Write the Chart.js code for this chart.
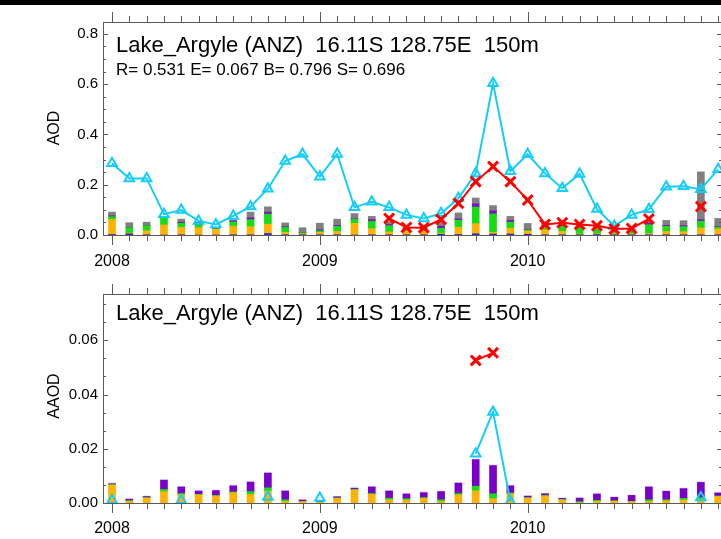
<!DOCTYPE html>
<html lang="en">
<head>
<meta charset="UTF-8">
<title>Lake_Argyle AOD / AAOD</title>
<style>
  html, body { margin: 0; padding: 0; background: #fff; overflow: hidden; }
  body { width: 721px; height: 539px; position: relative; }
  canvas { position: absolute; left: 0; }
  #aodChart { top: 0; }
  #aaodChart { top: 280px; }
  .band { position: absolute; left: 0; top: 0; width: 721px; height: 5px; background: #000; }
</style>
<script src="https://cdn.jsdelivr.net/npm/chart.js"></script>
</head>
<body>
<canvas id="aodChart" width="740" height="280"></canvas>
<canvas id="aaodChart" width="740" height="259"></canvas>
<div class="band"></div>
<script>
// months since Jan 2008
const months = [0,1,2,3,4,5,6,7,8,9,10,11,12,13,14,15,16,17,18,19,20,21,22,23,24,25,26,27,28,29,30,31,32,33,34,35];
const yearTicks = [0, 12, 24];
const yearLabels = ['2008', '2009', '2010'];

// AOD: observed (cyan triangles) and model (red crosses)
const aodObs = [0.285,0.225,0.225,0.083,0.099,0.056,0.042,0.076,0.113,0.184,0.294,0.322,
                0.232,0.322,0.110,0.132,0.110,0.080,0.066,0.086,0.146,0.245,0.603,0.254,
                0.321,0.245,0.186,0.243,0.103,0.036,0.080,0.102,0.192,0.194,0.182,0.261];
const aodModel = [null,null,null,null,null,null,null,null,null,null,null,null,
                  null,null,null,null,0.066,0.030,0.029,0.062,0.126,0.212,0.272,0.212,
                  0.139,0.042,0.049,0.042,0.037,0.024,0.026,0.064,null,null,0.113,null];
// AOD components (stacked bars, bottom to top)
const aodSeaSalt = [0.002,0.005,0.001,0,0.001,0,0,0.001,0.001,0.006,0.001,0.001,
                    0.001,0.001,0,0.001,0.001,0.001,0.001,0.003,0.002,0.005,0.004,0.004,
                    0.003,0.001,0.001,0.001,0.002,0.001,0.001,0.001,0.001,0.001,0.001,0.001];
const aodDust = [0.060,0.003,0.016,0.040,0.029,0.029,0.023,0.034,0.032,0.037,0.009,0.004,
                 0.009,0.013,0.046,0.024,0.011,0.015,0.020,0.004,0.029,0.040,0.007,0.023,
                 0.013,0.020,0.013,0.003,0.003,0.004,0.004,0.005,0.013,0.012,0.027,0.023];
const aodSulfate = [0.011,0.021,0.020,0.027,0.017,0.011,0.002,0.017,0.028,0.040,0.020,0.004,
                    0.007,0.020,0.016,0.029,0.025,0.008,0.004,0.020,0.028,0.066,0.073,0.024,
                    0.004,0.012,0.020,0.025,0.022,0.006,0.015,0.035,0.020,0.020,0.027,0.007];
const aodBC = [0.003,0.001,0.001,0.002,0.004,0.002,0.001,0.004,0.007,0.008,0.003,0.001,
               0.004,0.004,0.002,0.007,0.005,0.002,0.002,0.008,0.005,0.013,0.012,0.007,
               0.002,0.002,0.002,0.002,0.002,0.001,0.002,0.006,0.004,0.004,0.006,0.002];
const aodOC = [0.015,0.019,0.013,0.002,0.012,0.010,0.002,0.004,0.023,0.021,0.015,0.019,
               0.026,0.025,0.021,0.013,0.010,0.004,0.012,0.017,0.024,0.023,0.021,0.016,
               0.024,0.018,0.006,0.006,0.012,0.002,0.003,0.010,0.020,0.020,0.190,0.033];

// AAOD: observed and model
const aaodObs = [0.0010,null,null,null,0.0010,null,null,null,null,0.0022,null,null,
                 0.0018,null,null,null,null,null,null,null,null,0.0182,0.0336,0.0006,
                 null,null,null,null,null,null,null,null,null,null,0.0020,null];
const aaodModel = [null,null,null,null,null,null,null,null,null,null,null,null,
                   null,null,null,null,null,null,null,null,null,0.0526,0.0554,null,
                   null,null,null,null,null,null,null,null,null,null,null,null];
const aaodDust = [0.0066,0.0006,0.0018,0.0042,0.0030,0.0030,0.0026,0.0038,0.0032,0.0044,0.0006,0.0005,
                  0.0002,0.0017,0.0048,0.0032,0.0012,0.0011,0.0017,0.0006,0.0030,0.0045,0.0016,0.0034,
                  0.0018,0.0026,0.0011,0.0001,0.0006,0.0007,0.0005,0.0006,0.0008,0.0011,0.0014,0.0024];
const aaodSulfate = [0.0002,0.0003,0.0002,0.0008,0.0005,0.0002,0.0002,0.0003,0.0010,0.0012,0.0006,0.0001,
                     0,0.0002,0.0002,0.0003,0.0006,0.0005,0.0003,0.0006,0.0005,0.0017,0.0018,0.0003,
                     0.0002,0.0002,0.0002,0.0004,0.0004,0.0001,0.0001,0.0006,0.0004,0.0006,0.0006,0.0002];
const aaodBC = [0.0003,0.0005,0.0004,0.0034,0.0024,0.0012,0.0018,0.0022,0.0035,0.0054,0.0032,0.0005,
                0.0003,0.0004,0.0004,0.0024,0.0026,0.0017,0.0018,0.0030,0.0038,0.0098,0.0104,0.0026,
                0.0005,0.0006,0.0004,0.0013,0.0023,0.0013,0.0022,0.0047,0.0031,0.0036,0.0056,0.0011];
const aaodOC = [0.0003,0.0002,0.0002,0.0003,0.0002,0.0002,0.0002,0.0003,0.0002,0.0003,0.0002,0.0002,
                0,0.0002,0.0004,0.0003,0.0002,0.0003,0.0003,0.0002,0.0003,0.0002,0.0002,0.0003,
                0.0003,0.0002,0.0002,0.0001,0.0002,0.0002,0.0001,0.0002,0.0002,0.0002,0.0002,0.0002];

const FONT = "'Liberation Sans', Arial, sans-serif";
const CYAN = '#14cdf8', RED = '#ff0000';

function pts(arr) {
  return arr.map((v, i) => ({ x: months[i], y: v }));
}

function lineSet(arr, color, style, radius, stack) {
  return {
    type: 'line', data: pts(arr), stack: stack,
    borderColor: color, borderWidth: 2, tension: 0, spanGaps: false,
    pointStyle: style, pointRadius: radius, pointBorderWidth: style === 'crossRot' ? 3 : 2,
    pointBorderColor: color, pointBackgroundColor: 'rgba(0,0,0,0)'
  };
}

function barSet(arr, color) {
  return { type: 'bar', data: pts(arr), backgroundColor: color, borderWidth: 0, barThickness: 7 };
}

// frame, tick marks and panel text
const framePlugin = {
  id: 'frame',
  afterDraw(chart, args, o) {
    const { ctx, chartArea: a, scales: { x, y } } = chart;
    ctx.save();
    ctx.strokeStyle = '#5a5a5a';
    ctx.lineWidth = 1;
    ctx.strokeRect(Math.round(a.left) + 0.5, Math.round(a.top) + 0.5, a.right - a.left, Math.round(a.bottom - a.top));
    ctx.beginPath();
    for (const m of months) {
      const px = Math.round(x.getPixelForValue(m)) + 0.5;
      const len = yearTicks.includes(m) ? 10 : 6;
      ctx.moveTo(px, a.bottom); ctx.lineTo(px, a.bottom + len);
      ctx.moveTo(px, a.top); ctx.lineTo(px, a.top - len);
    }
    for (let k = 0; k * o.minorStep <= y.max + 1e-9; k++) {
      const py = Math.round(y.getPixelForValue(k * o.minorStep)) + 0.5;
      const len = k % o.perMajor === 0 ? 5 : 3;
      ctx.moveTo(a.left, py); ctx.lineTo(a.left + len, py);
      ctx.moveTo(a.right, py); ctx.lineTo(a.right - len, py);
    }
    ctx.stroke();

    ctx.fillStyle = '#000';
    ctx.textAlign = 'left';
    ctx.textBaseline = 'alphabetic';
    ctx.font = '22px ' + FONT;
    ctx.fillText(o.title, 116, o.titleY);
    if (o.subtitle) {
      ctx.font = '17px ' + FONT;
      ctx.fillText(o.subtitle, 116, o.titleY + 23);
    }
    ctx.translate(55, o.yTitleY);
    ctx.rotate(-Math.PI / 2);
    ctx.textAlign = 'center';
    ctx.textBaseline = 'middle';
    ctx.font = '16px ' + FONT;
    ctx.fillText(o.yTitle, 0, 0);
    ctx.restore();
  }
};

function makePanel(id, cfg) {
  return new Chart(document.getElementById(id), {
    type: 'bar',
    data: { datasets: cfg.datasets },
    plugins: [framePlugin],
    options: {
      responsive: false, animation: false,
      layout: { padding: { top: cfg.padTop, right: 18, left: 0, bottom: 0 } },
      plugins: {
        legend: { display: false }, tooltip: { enabled: false },
        frame: cfg.frame
      },
      scales: {
        x: {
          type: 'linear', min: -0.52, max: 35.22, stacked: true, offset: false,
          grid: { display: false, drawTicks: false, tickLength: 0 }, border: { display: false },
          afterBuildTicks: (s) => { s.ticks = yearTicks.map(v => ({ value: v })); },
          afterFit: (s) => { s.height = cfg.xHeight; },
          ticks: {
            autoSkip: false, maxRotation: 0, padding: cfg.xPad, color: '#000',
            font: { family: FONT, size: 16 },
            callback: (v) => yearLabels[yearTicks.indexOf(v)]
          }
        },
        y: {
          min: 0, max: cfg.yMax, stacked: true,
          grid: { display: false, drawTicks: false, tickLength: 0 }, border: { display: false },
          afterFit: (s) => { s.width = 103; },
          ticks: {
            stepSize: cfg.yStep, includeBounds: false, padding: 5, color: '#000',
            font: { family: FONT, size: 15 },
            callback: (v) => v.toFixed(cfg.digits)
          }
        }
      }
    }
  });
}

makePanel('aodChart', {
  padTop: 22, xHeight: 45, xPad: 17, yMax: 0.847, yStep: 0.2, digits: 1,
  frame: { title: 'Lake_Argyle (ANZ)  16.11S 128.75E  150m', subtitle: 'R= 0.531 E= 0.067 B= 0.796 S= 0.696',
           titleY: 52, yTitle: 'AOD', yTitleY: 128, minorStep: 0.05, perMajor: 4 },
  datasets: [
    lineSet(aodModel, RED, 'crossRot', 7, 'model'),
    lineSet(aodObs, CYAN, 'triangle', 5.5, 'obs'),
    barSet(aodSeaSalt, '#2a2ad0'),
    barSet(aodDust, '#ffb300'),
    barSet(aodSulfate, '#16dc16'),
    barSet(aodBC, '#7a10c8'),
    barSet(aodOC, '#808080')
  ]
});

makePanel('aaodChart', {
  padTop: 9, xHeight: 36, xPad: 16, yMax: 0.0771, yStep: 0.02, digits: 2,
  frame: { title: 'Lake_Argyle (ANZ)  16.11S 128.75E  150m', subtitle: null,
           titleY: 40, yTitle: 'AAOD', yTitleY: 116, minorStep: 0.02 / 3, perMajor: 3 },
  datasets: [
    lineSet(aaodModel, RED, 'crossRot', 7, 'model'),
    lineSet(aaodObs, CYAN, 'triangle', 5.5, 'obs'),
    barSet(aaodDust, '#ffb300'),
    barSet(aaodSulfate, '#16dc16'),
    barSet(aaodBC, '#7a00c8'),
    barSet(aaodOC, '#dcc0f0')
  ]
});
</script>
</body>
</html>
